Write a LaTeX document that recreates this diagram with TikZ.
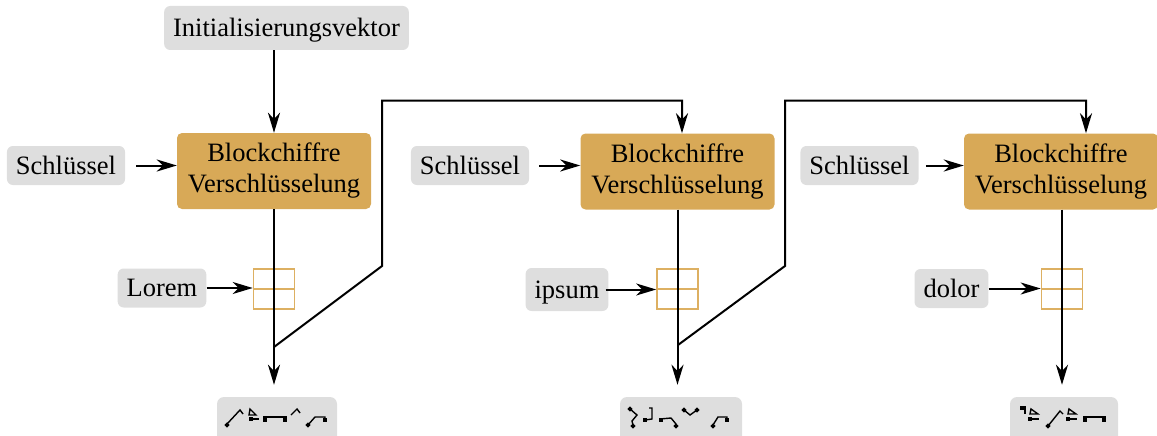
\documentclass[tikz,border=0pt]{standalone}
\usepackage{fontspec}
\setmainfont{Liberation Serif}
\usetikzlibrary{arrows.meta}
\definecolor{blockc}{HTML}{D8A957}
\definecolor{graybg}{HTML}{DEDEDE}
\definecolor{xorc}{HTML}{DDB062}
\newcommand{\gsq}[2]{\fill (#1,#2) +(-2,-2) rectangle +(2,2);}
\newcommand{\gdm}[2]{\fill (#1,#2) +(0,-2.7) -- +(2.7,0) -- +(0,2.7) -- +(-2.7,0) -- cycle;}
\begin{document}
\begin{tikzpicture}[x=1pt,y=-1pt,
  font=\fontsize{26.5pt}{31pt}\selectfont,
  gbox/.style={fill=graybg, rounded corners=6pt, inner xsep=9pt, inner ysep=8pt, text height=20pt, text depth=3pt},
  bbox/.style={fill=blockc, rounded corners=5pt, minimum width=194pt, minimum height=76pt, align=center, inner sep=0pt},
  xorbox/.style={draw=xorc, line width=1.6pt, minimum width=41pt, minimum height=40pt, inner sep=0pt,
    path picture={\draw[xorc, line width=1.6pt] (path picture bounding box.north) -- (path picture bounding box.south) (path picture bounding box.west) -- (path picture bounding box.east);}},
  cbox/.style={fill=graybg, rounded corners=7pt, minimum height=60pt},
  arr/.style={line width=2pt, -{Stealth[length=20pt,width=12pt,inset=6pt]}},
  glyph/.style={line width=1.4pt, line join=miter}]
\clip (0,0) rectangle (1157,436);
% nodes
\node[gbox, minimum height=44pt] (iv) at (286.5,28) {Initialisierungsvektor};
\node[bbox] (b1) at (274,171) {Blockchiffre\\Verschlüsselung};
\node[bbox] (b2) at (677.5,171.5) {Blockchiffre\\Verschlüsselung};
\node[bbox] (b3) at (1061,171.5) {Blockchiffre\\Verschlüsselung};
\node[gbox] (k1) at (66,165.5) {Schlüssel};
\node[gbox] (k2) at (470,165.5) {Schlüssel};
\node[gbox] (k3) at (859.5,165.5) {Schlüssel};
\node[xorbox] (x1) at (274,289) {};
\node[xorbox] (x2) at (677.5,289) {};
\node[xorbox] (x3) at (1062,289) {};
\node[gbox] (l1) at (162,288) {Lorem};
\node[gbox, minimum height=43pt] (l2) at (567,289.5) {ipsum};
\node[gbox] (l3) at (951.5,288.5) {dolor};
\node[cbox, minimum width=120pt] (c1) at (277,427) {};
\node[cbox, minimum width=122pt] (c2) at (681,427) {};
\node[cbox, minimum width=108pt] (c3) at (1064,427) {};
% coordinates
\coordinate (f1) at (274,347);
\coordinate (g1) at (382,266);
\coordinate (h1) at (382,100.5);
\coordinate (f2) at (678,345);
\coordinate (g2) at (785,266);
\coordinate (h2) at (785,100.5);
% connectors
\draw[arr] (iv.south -| b1.north) -- (b1.north);
\draw[arr, shorten <=11pt] (k1.east) -- (k1.east -| b1.west);
\draw[arr, shorten <=10pt] (k2.east) -- (k2.east -| b2.west);
\draw[arr, shorten <=7pt] (k3.east) -- (k3.east -| b3.west);
\draw[arr] (l1.east) -- (l1.east -| x1.west);
\draw[arr, shorten <=-3pt] (l2.east) -- (l2.east -| x2.west);
\draw[arr] (l3.east) -- (l3.east -| x3.west);
\draw[arr] (b1.south) -- ([yshift=12pt]c1.north -| b1.south);
\draw[arr] (b2.south) -- ([yshift=12pt]c2.north -| b2.south);
\draw[arr] (x3.north -| b3.south) ++(1,0) coordinate (v3) (b3.south -| v3) -- ([yshift=12pt]c3.north -| v3);
\draw[arr] (f1) -- (g1) -- (h1) -| ([xshift=4.5pt]b2.north);
\draw[arr] (f2) -- (g2) -- (h2) -| ([xshift=25pt]b3.north);
% glyphs 1
\begin{scope}[glyph]
\draw (227,424) -- (240,410) -- (243,414);
\gdm{227}{425}
\draw (250,409) -- (256,415) -- (249,415) -- cycle;
\draw (250,419) -- (259,419);
\gsq{251}{419}
\draw (264,420) -- (264,417) -- (286,417) -- (286,420);
\gsq{265}{420} \gsq{285}{420}
\draw (291,415) -- (297,409) -- (300,413);
\draw (308,425) -- (315,417) -- (325,417) -- (325,421);
\gdm{308}{425} \gsq{325}{420}
% glyphs 2
\draw (630,409) -- (637,415) -- (632,421) -- (633,425);
\gdm{630}{409} \gdm{633}{426}
\draw (649,408) -- (652,408) -- (652,419) -- (645,420);
\gsq{645}{420}
\draw (660,419) -- (671,418) -- (676,424);
\gsq{661}{420} \gdm{676}{426}
\draw (684,410) -- (690,415) -- (697,410);
\gdm{684}{410} \gdm{697}{410}
\draw (713,425) -- (718,417) -- (727,417) -- (727,420);
\gdm{713}{426} \gsq{727}{420}
% glyphs 3
\draw (1021,407) -- (1025,407) -- (1025,414);
\gsq{1022}{408}
\draw (1031,409) -- (1038,414) -- (1030,414) -- cycle;
\draw (1030,419) -- (1039,419);
\gsq{1030}{419}
\draw (1048,426) -- (1060,411) -- (1063,414);
\gdm{1048}{426}
\draw (1069,409) -- (1076,414) -- (1068,414) -- cycle;
\draw (1068,419) -- (1077,419);
\gsq{1068}{419}
\draw (1084,420) -- (1084,417) -- (1105,417) -- (1105,420);
\gsq{1085}{420} \gsq{1104}{420}
\end{scope}
\end{tikzpicture}
\end{document}
